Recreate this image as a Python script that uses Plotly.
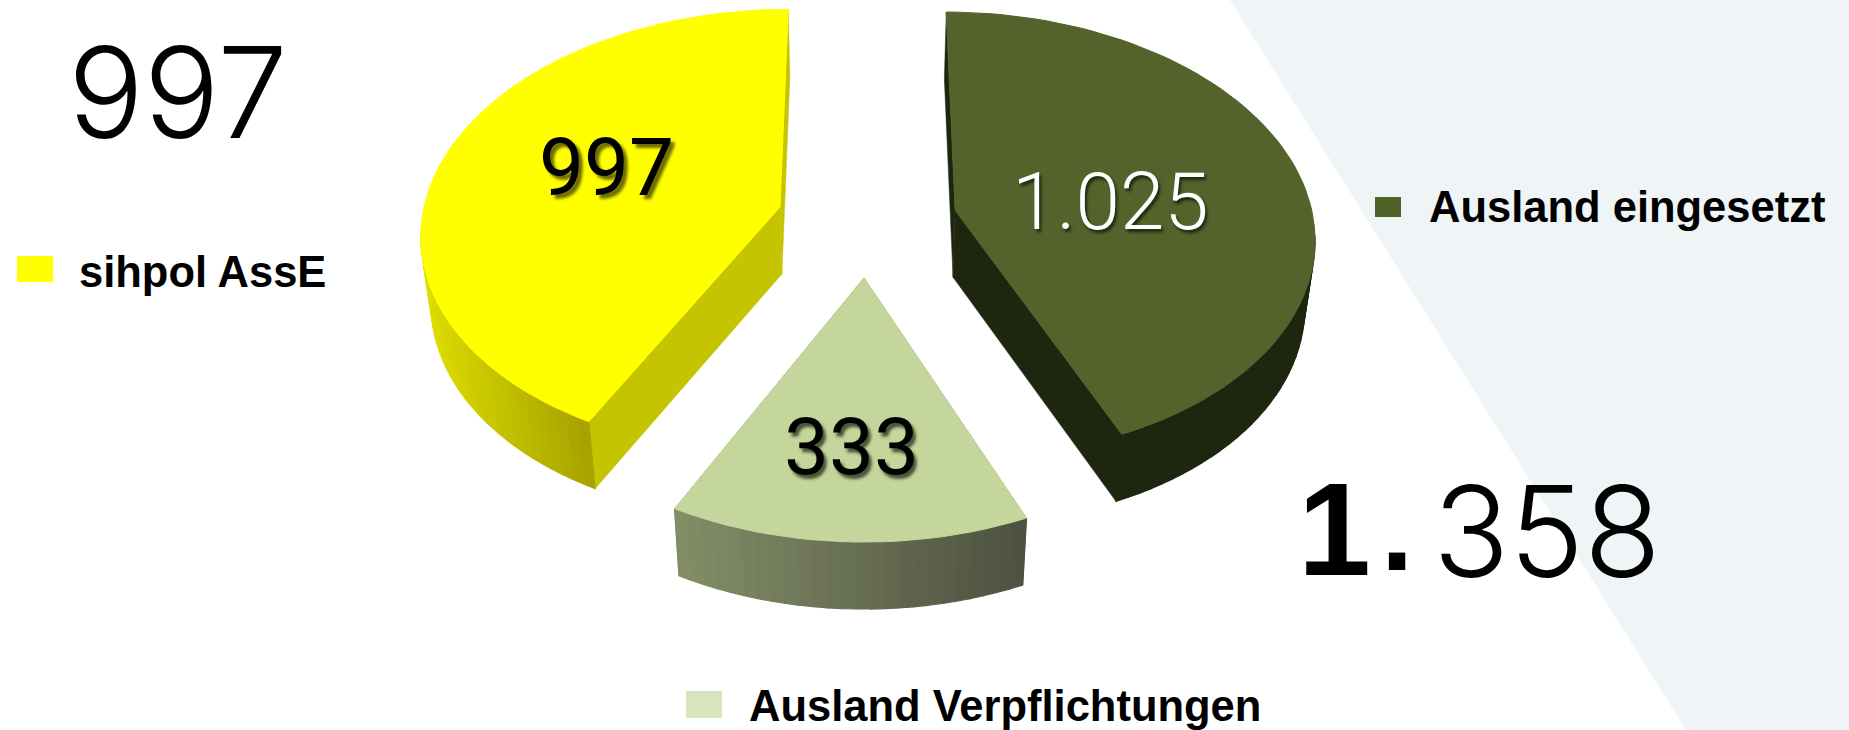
import math
import plotly.graph_objects as go

# ---- data ----
categories = ["Ausland eingesetzt", "Ausland Verpflichtungen", "sihpol AssE"]
values = [1025, 333, 997]
slice_labels = ["1.025", "333", "997"]
total_labels = {"left": "997", "right_lead": "1", "right_dot": ".", "right_tail": "358"}

# ---- styling / geometry ----
W, H = 1849, 730
X0, Y0 = 864.0, 207.0      # vanishing axis and pie plane origin
RX, RY, K = 356.0, 219.0, 0.108
DEPTH, BOTTOM_SCALE = 67.0, 0.977
# exploded offset of each slice: x in px, depth in radius units
offsets = [(91.0, -0.015), (0.0, -0.313), (-84.0, 0.0)]
top_colors = ["#53632b", "#c4d69b", "#ffff00"]
cut_colors = ["#1f2610", "#6a7352", "#c4c400"]
wall_from = [(31, 38, 16), (130, 141, 102), (222, 222, 0)]
wall_to = [(31, 38, 16), (78, 82, 64), (168, 163, 0)]


def top(theta, off):
    u, v = math.sin(theta), math.cos(theta)
    w = off[1] + v
    d = 1 + K * w
    return X0 + (off[0] + RX * u) / d, Y0 - RY * w / d


def apex(off):
    w = off[1]
    d = 1 + K * w
    return X0 + off[0] / d, Y0 - RY * w / d


def low(p):
    return X0 + (p[0] - X0) * BOTTOM_SCALE, p[1] + DEPTH


def poly(points, color, width=0.5):
    xs = [p[0] for p in points] + [points[0][0]]
    ys = [p[1] for p in points] + [points[0][1]]
    return go.Scatter(x=xs, y=ys, mode="lines", fill="toself", fillcolor=color,
                      line=dict(color=color, width=width), hoverinfo="skip", showlegend=False)


fig = go.Figure()
total = sum(values)
angle = 0.0
for i, val in enumerate(values):
    a0 = angle
    a1 = angle + 2 * math.pi * val / total
    angle = a1
    off = offsets[i]
    c = apex(off)
    n = max(12, int((a1 - a0) / math.radians(2)))
    angs = [a0 + (a1 - a0) * j / n for j in range(n + 1)]
    rim = [top(t, off) for t in angs]
    # radial cut walls
    fig.add_trace(poly([c, rim[0], low(rim[0]), low(c)], cut_colors[i]))
    fig.add_trace(poly([c, rim[-1], low(rim[-1]), low(c)], cut_colors[i]))
    # outer wall: only the part facing the viewer, shaded left to right
    front = [j for j in range(n) if math.cos(angs[j]) < -0.08 and math.cos(angs[j + 1]) < -0.08]
    xs = [rim[j][0] for j in front]
    xmin, xmax = min(xs), max(xs)
    for j in front:
        f = (rim[j][0] - xmin) / max(1.0, xmax - xmin)
        rgb = [round(wall_from[i][m] + (wall_to[i][m] - wall_from[i][m]) * f) for m in range(3)]
        fig.add_trace(poly([rim[j], rim[j + 1], low(rim[j + 1]), low(rim[j])],
                           "rgb(%d,%d,%d)" % tuple(rgb), width=1.2))
    fig.add_trace(poly([c] + rim, top_colors[i], width=1.0))

anns = []


def note(x, y, text, size, color="#000000", family="Liberation Sans", weight=None,
         anchor="center", shadow=None):
    font = dict(size=size, color=color, family=family)
    if weight:
        font["weight"] = weight
    if shadow:
        font["shadow"] = shadow
    anns.append(dict(x=x, y=y, xref="x", yref="y", text=text, showarrow=False,
                     xanchor=anchor, yanchor="middle", font=font))


# slice labels
note(1110, 202, slice_labels[0], 80, "#ffffff", "Roboto", weight=300,
     shadow="2px 3px 3px #20260f")
note(851, 447, slice_labels[1], 80, "#000000", "Roboto", weight=400,
     shadow="3px 4px 3px #4a5238")
note(606, 168, slice_labels[2], 80, "#000000", "Roboto", weight=400,
     shadow="4px 4px 3px #6f6c00")

# big totals
note(178, 92, total_labels["left"], 126, family="Inter", weight=300)
note(1547, 531, total_labels["right_tail"], 126, family="Inter", weight=300)
note(1334, 529, total_labels["right_lead"], 131, family="Liberation Sans", weight=700)
note(1397, 530, total_labels["right_dot"], 116, family="Liberation Sans", weight=700)

# legend texts
note(77, 272, categories[2], 43.5, weight=700, anchor="left")
note(1427, 207, categories[0], 43.5, weight=700, anchor="left")
note(747, 706, categories[1], 43.5, weight=700, anchor="left")

shapes = [
    dict(type="path", path="M 1230 0 L 1849 0 L 1849 730 L 1686 730 Z", xref="x", yref="y",
         fillcolor="#eff4f7", line=dict(width=0), layer="below"),
    dict(type="rect", x0=17, x1=53, y0=256, y1=282, xref="x", yref="y",
         fillcolor="#ffff00", line=dict(width=0), layer="below"),
    dict(type="rect", x0=1375, x1=1401, y0=197, y1=217, xref="x", yref="y",
         fillcolor="#4f6228", line=dict(width=0), layer="below"),
    dict(type="rect", x0=686, x1=722, y0=691, y1=718, xref="x", yref="y",
         fillcolor="#d7e4bd", line=dict(width=0), layer="below"),
]

fig.update_layout(
    width=W, height=H, margin=dict(l=0, r=0, t=0, b=0),
    paper_bgcolor="#ffffff", plot_bgcolor="#ffffff", showlegend=False,
    xaxis=dict(range=[0, W], visible=False, fixedrange=True),
    yaxis=dict(range=[H, 0], visible=False, fixedrange=True),
    shapes=shapes, annotations=anns,
)
fig.write_html("out.html", config=dict(displayModeBar=False),
               post_script="document.body.style.margin='0';document.body.style.overflow='hidden';")
